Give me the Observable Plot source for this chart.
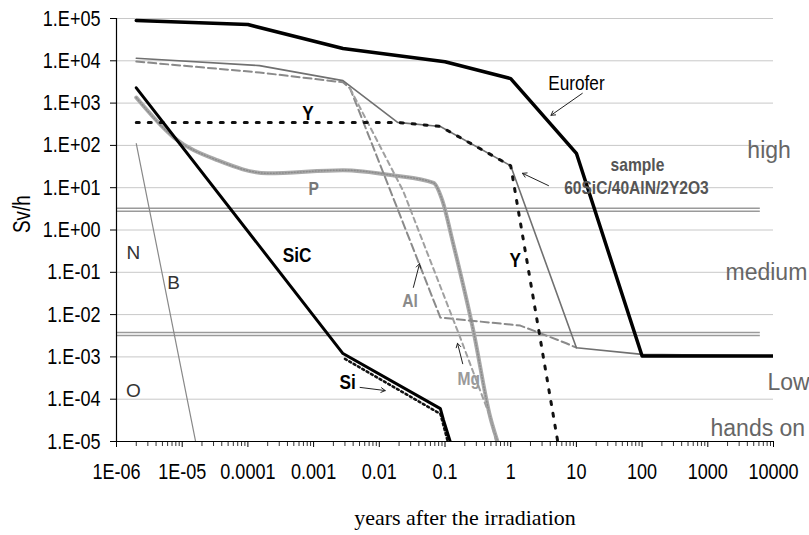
<!DOCTYPE html>
<html><head><meta charset="utf-8">
<script src="https://cdn.jsdelivr.net/npm/d3@7"></script>
<script src="https://cdn.jsdelivr.net/npm/@observablehq/plot@0.6"></script>
<style>
body{margin:0;background:#fff;}
#chart svg{display:block;}
</style>
</head><body><div id="chart"></div>
<script>
// ---- data (time in years, dose rate in Sv/h) ----
const eurofer = [[2e-6,9e4],[1e-4,7.2e4],[2.8e-3,1.95e4],[0.1,9.5e3],[1,3.8e3],[10,65],[100,1.05e-3],[1e4,1.05e-3]];
const sampleTotal = [[2e-6,1.15e4],[1.5e-4,7.7e3],[2.8e-3,3.4e3],[0.019,350],[0.085,280],[1,33],[10,1.65e-3],[100,1.15e-3],[1e4,1.05e-3]];
const alSeries = [[2e-6,9.6e3],[1.5e-4,5.3e3],[2.8e-3,3.1e3],[3.6e-3,2.2e3],[0.085,8.5e-3],[1.4,5.5e-3],[7,2.1e-3],[10,1.65e-3]];
const mgSeries = [[3.6e-3,2.2e3],[0.023,8.5],[0.17,2.9e-3],[0.49,3.7e-5],[0.6,1e-5]];
const pSeries = [[2e-6,1.35e3],[7.4e-6,155],[3.5e-5,44],[2e-4,22],[2.8e-3,26],[0.0166,19.5],[0.067,13],[0.091,5],[0.13,0.56],[0.27,4.2e-3],[0.49,3.7e-5],[0.63,1e-5]];
const ySeries = [[2e-6,350],[0.019,350],[0.085,280],[1,33],[5.2,1e-5]];
const sicSeries = [[2e-6,2.3e3],[2.8e-3,1.2e-3],[0.085,6e-5],[0.095,3.2e-5],[0.12,1e-5]];
const siSeries = [[3e-3,9e-4],[0.085,4.5e-5],[0.11,1e-5]];
const bSeries = [[2e-6,110],[1.6e-5,1e-5]];
const limits = [3, 3.5e-3];

const yTicks = [1e5,1e4,1e3,1e2,1e1,1,1e-1,1e-2,1e-3,1e-4,1e-5];
const yTickLabels = ["1.E+05","1.E+04","1.E+03","1.E+02","1.E+01","1.E+00","1.E-01","1.E-02","1.E-03","1.E-04","1.E-05"];
const xTicks = [1e-6,1e-5,1e-4,1e-3,1e-2,1e-1,1,10,100,1000,10000];
const xTickLabels = ["1E-06","1E-05","0.0001","0.001","0.01","0.1","1","10","100","1000","10000"];

const plainLabels = [["Eurofer",10,2.9e3]];
const boldLabels = [["Y",8.2e-4,560],["SiC",5.6e-4,0.25],["Y",1.17,0.19],["Si",3.3e-3,2.5e-4]];
const greyLabels = [["sample",85,34,"#555"],["60SiC/40AlN/2Y2O3",82,10,"#555"],["P",1e-3,9.5,"#777"],["Al",0.0294,0.0215,"#8a8a8a"],["Mg",0.23,3.1e-4,"#9a9a9a"]];
const elementLabels = [["N",1.8e-6,0.28],["B",7.4e-6,0.057],["O",1.8e-6,1.6e-4]];
const levelLabels = [["high",4e3,76],["medium",1.86e3,0.1],["Low",8.1e3,2.5e-4],["hands on",1.1e3,2.0e-5]];
const arrows = [[12.3,1.7e3,4.1,515],[3.76,11.2,1.51,21.9],[0.033,0.044,0.041,0.16],[0.186,6.9e-4,0.155,2.1e-3],[5.1e-3,1.9e-4,0.0123,1.6e-4]];

const minorX = [];
for (let e = -6; e < 4; e++) for (let k = 2; k <= 9; k++) minorX.push(k * Math.pow(10, e));

const NARROW = '"Liberation Sans Narrow","Liberation Sans",Arial,sans-serif';
const SANS = '"Liberation Sans",Arial,sans-serif';

const line = (d, o) => Plot.line(d, {x: d => d[0], y: d => d[1], clip: true, ...o});
const label = (d, o) => Plot.text(d, {x: d => d[1], y: d => d[2], text: d => d[0], ...o});

const chart = Plot.plot({
  width: 809, height: 535,
  marginLeft: 116, marginRight: 36, marginTop: 18, marginBottom: 94,
  style: {fontFamily: SANS, background: "#fff"},
  x: {type: "log", domain: [1e-6, 1e4]},
  y: {type: "log", domain: [1e-5, 1e5]},
  marks: [
    Plot.gridY(yTicks, {stroke: "#c8c8c8", strokeOpacity: 1}),
    Plot.ruleY(limits, {x1: 1e-6, x2: 6300, dy: -1.5, stroke: "#9a9a9a", strokeWidth: 1.5}),
    Plot.ruleY(limits, {x1: 1e-6, x2: 6300, dy: 1.5, stroke: "#9a9a9a", strokeWidth: 1.5}),
    line(bSeries, {stroke: "#888", strokeWidth: 1.2}),
    line(pSeries, {stroke: "#aaa", strokeWidth: 4, curve: "monotone-x"}),
    line(pSeries, {stroke: "#8c8c8c", strokeWidth: 1.5, strokeDasharray: "1,2", curve: "monotone-x"}),
    line(alSeries, {stroke: "#8a8a8a", strokeWidth: 2, strokeDasharray: "8,4"}),
    line(mgSeries, {stroke: "#a0a0a0", strokeWidth: 2, strokeDasharray: "5,4"}),
    line(sampleTotal, {stroke: "#707070", strokeWidth: 1.6}),
    line(ySeries, {stroke: "#111", strokeWidth: 3, strokeDasharray: "3,9"}),
    line(siSeries, {stroke: "#111", strokeWidth: 2.5, strokeDasharray: "2,3"}),
    line(sicSeries, {stroke: "#000", strokeWidth: 3}),
    line(eurofer, {stroke: "#000", strokeWidth: 3.5}),
    Plot.arrow(arrows, {x1: d => d[0], y1: d => d[1], x2: d => d[2], y2: d => d[3], stroke: "#222", strokeWidth: 1, headLength: 7}),
    label(plainLabels, {fill: "#000", fontSize: 21, fontFamily: NARROW}),
    label(boldLabels, {fill: "#000", fontWeight: "bold", fontSize: 21, fontFamily: NARROW}),
    label(greyLabels, {fill: d => d[3], fontWeight: "bold", fontSize: 19, fontFamily: NARROW}),
    label(elementLabels, {fill: "#333", fontSize: 19, fontFamily: SANS}),
    label(levelLabels, {fill: "#666", fontSize: 23, fontFamily: SANS, textAnchor: "start"}),
    Plot.axisY(yTicks, {tickSize: 6, tickPadding: 10, tickFormat: d => yTickLabels[yTicks.indexOf(d)], fontSize: 22, fontFamily: NARROW, label: null}),
    Plot.axisX(minorX, {tickSize: 5, tickFormat: () => "", label: null, stroke: "#333"}),
    Plot.axisX(xTicks, {tickSize: 6, tickPadding: 16, tickFormat: d => xTickLabels[xTicks.indexOf(d)], fontSize: 22, fontFamily: NARROW, label: null}),
    Plot.ruleX([1e-6], {stroke: "#000", strokeWidth: 1.2}),
    Plot.ruleY([1e-5], {stroke: "#000", strokeWidth: 1.2}),
    Plot.text(["years after the irradiation"], {frameAnchor: "bottom", dy: 83, dx: 20, fontFamily: '"Liberation Serif","Times New Roman",serif', fontSize: 22, fill: "#000"}),
    Plot.text(["Sv/h"], {frameAnchor: "left", rotate: -90, dx: -94, dy: 3, fontFamily: NARROW, fontSize: 23, fill: "#000"})
  ]
});
document.getElementById("chart").appendChild(chart);

// condense the "narrow" texts horizontally (keeps their anchor)
chart.querySelectorAll('g[font-family*="Narrow"] text').forEach(t => {
  const len = t.getComputedTextLength();
  if (len > 0) {
    t.setAttribute("lengthAdjust", "spacingAndGlyphs");
    t.setAttribute("textLength", (len * 0.82).toFixed(1));
  }
});
</script>
</body></html>
